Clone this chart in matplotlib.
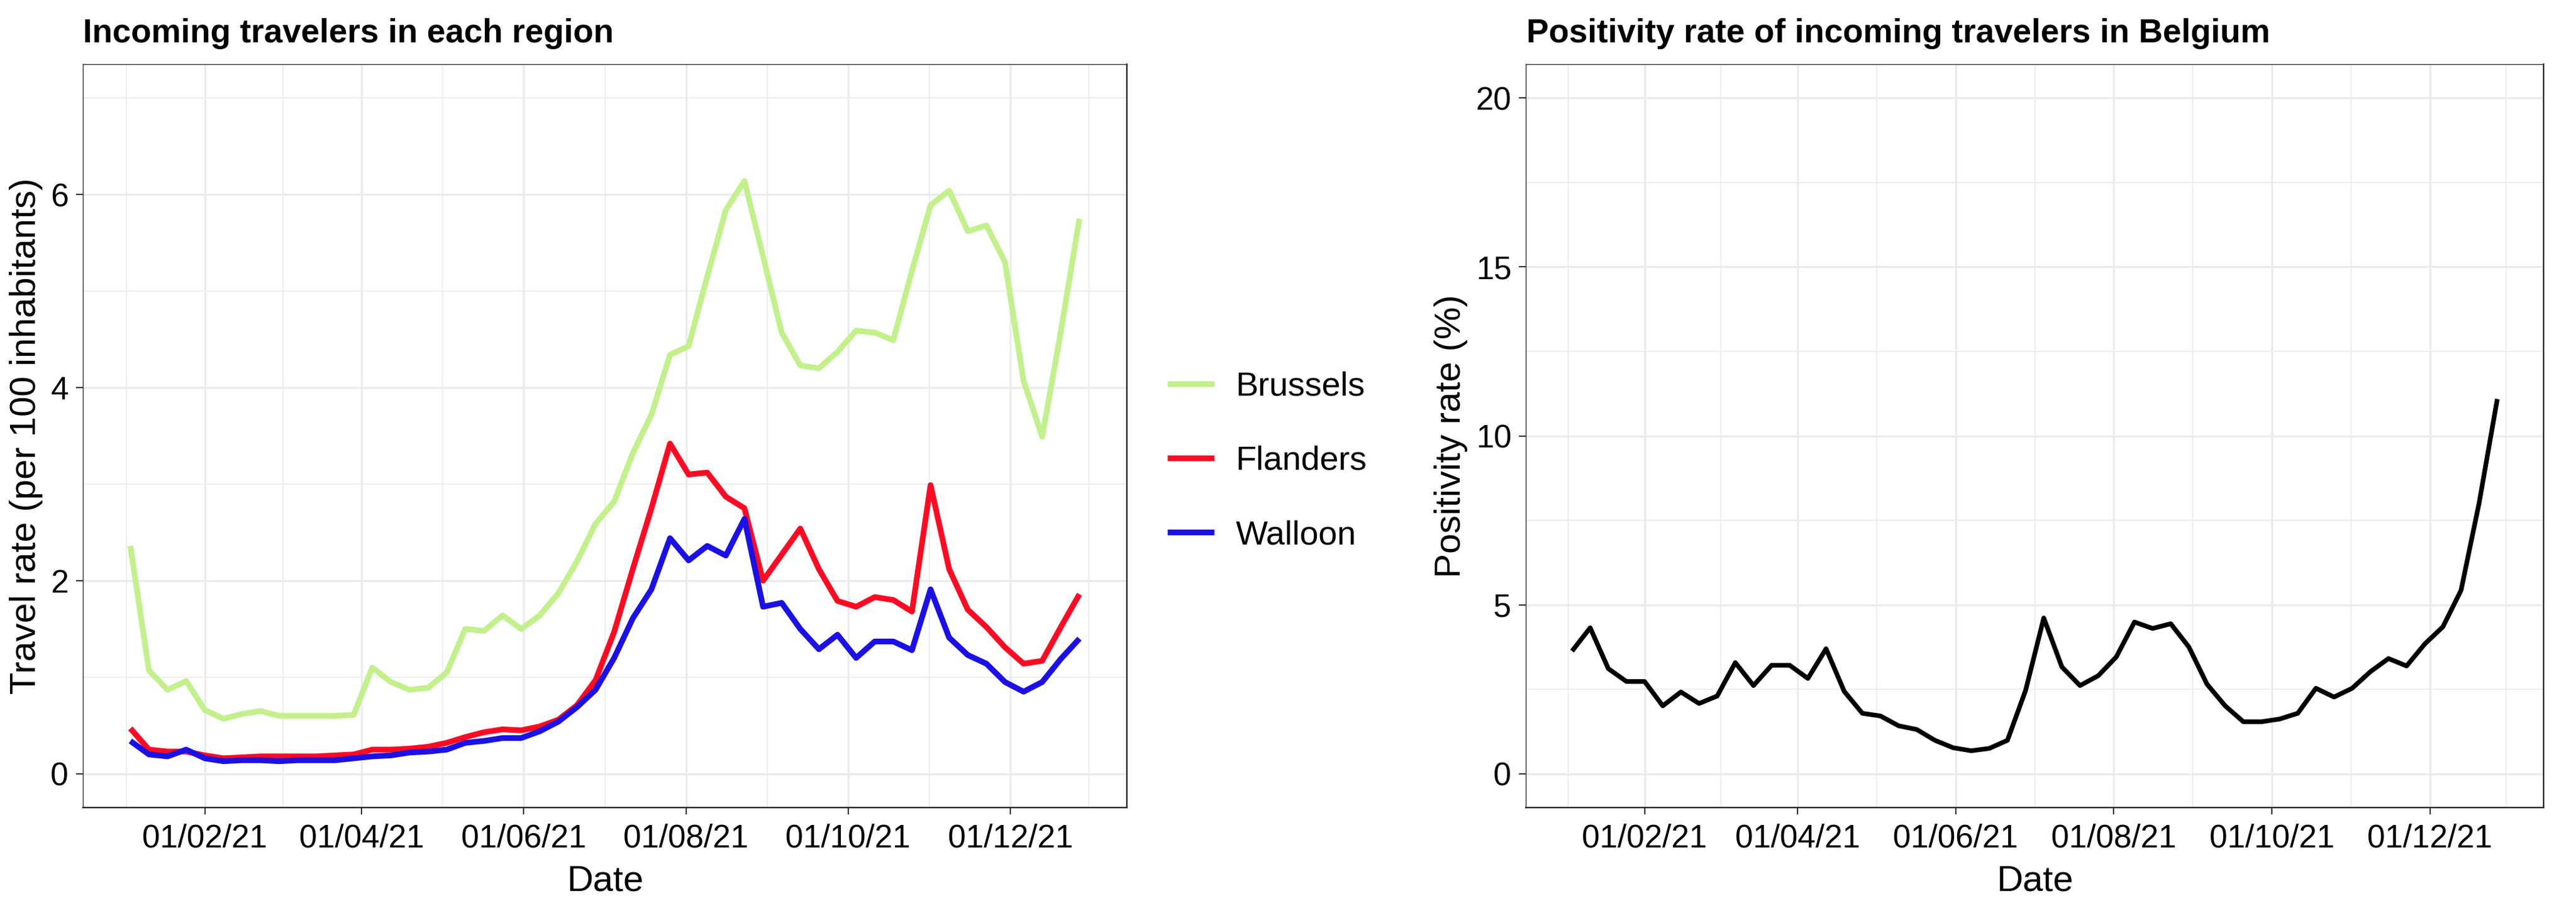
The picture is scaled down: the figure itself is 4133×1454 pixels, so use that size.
import numpy as np
import pandas as pd
import matplotlib
matplotlib.use('Agg')
import matplotlib.pyplot as plt
import matplotlib.dates as mdates
from matplotlib import font_manager
from matplotlib.ticker import MultipleLocator, FixedLocator

# weekly data, Monday of each week in 2021
weeks = pd.date_range('2021-01-04', periods=52, freq='7D')

brussels = [2.36, 1.07, 0.87, 0.96, 0.66, 0.57, 0.62, 0.65, 0.60, 0.60, 0.60, 0.60, 0.61,
            1.10, 0.95, 0.87, 0.89, 1.05, 1.50, 1.48, 1.64, 1.50, 1.64, 1.87, 2.20, 2.59,
            2.82, 3.32, 3.72, 4.34, 4.43, 5.15, 5.84, 6.14, 5.36, 4.57, 4.23, 4.20, 4.37,
            4.59, 4.57, 4.49, 5.21, 5.89, 6.04, 5.62, 5.68, 5.30, 4.07, 3.49, 4.58, 5.75]
flanders = [0.47, 0.25, 0.23, 0.23, 0.19, 0.16, 0.17, 0.18, 0.18, 0.18, 0.18, 0.19, 0.20,
            0.25, 0.25, 0.26, 0.28, 0.32, 0.38, 0.43, 0.46, 0.45, 0.49, 0.56, 0.71, 0.97,
            1.47, 2.12, 2.75, 3.42, 3.10, 3.12, 2.87, 2.75, 2.00, 2.27, 2.54, 2.12, 1.79,
            1.73, 1.83, 1.80, 1.68, 2.99, 2.12, 1.70, 1.52, 1.31, 1.14, 1.17, 1.52, 1.86]
walloon = [0.34, 0.20, 0.18, 0.25, 0.16, 0.13, 0.14, 0.14, 0.13, 0.14, 0.14, 0.14, 0.16,
           0.18, 0.19, 0.22, 0.23, 0.25, 0.32, 0.34, 0.37, 0.37, 0.44, 0.54, 0.69, 0.87,
           1.20, 1.61, 1.91, 2.44, 2.21, 2.36, 2.26, 2.64, 1.73, 1.77, 1.50, 1.29, 1.44,
           1.20, 1.37, 1.37, 1.28, 1.91, 1.41, 1.23, 1.14, 0.95, 0.85, 0.95, 1.19, 1.40]
positivity = [3.63, 4.32, 3.11, 2.73, 2.73, 2.01, 2.42, 2.08, 2.30, 3.29, 2.61, 3.21, 3.21,
              2.82, 3.70, 2.44, 1.79, 1.71, 1.42, 1.31, 0.99, 0.77, 0.68, 0.75, 0.99, 2.47,
              4.61, 3.16, 2.61, 2.90, 3.46, 4.49, 4.30, 4.44, 3.75, 2.65, 2.01, 1.54, 1.54,
              1.62, 1.79, 2.53, 2.27, 2.53, 3.02, 3.41, 3.19, 3.84, 4.35, 5.43, 8.02, 11.09]

regions = ['Brussels', 'Flanders', 'Walloon']
region_colors = ['#c2f08b', '#ff0a23', '#1b10e6']
major_dates = pd.to_datetime(['2021-02-01', '2021-04-01', '2021-06-01',
                              '2021-08-01', '2021-10-01', '2021-12-01'])

names = {f.name for f in font_manager.fontManager.ttflist}
base_font = 'Liberation Sans' if 'Liberation Sans' in names else 'DejaVu Sans'
narrow = 'Liberation Sans Narrow' in names
title_font = 'Liberation Sans Narrow' if narrow else base_font
title_size = 13.4 if narrow else 12.8
plt.rcParams['font.family'] = [base_font, 'DejaVu Sans']

W, H = 4133, 1454
fig = plt.figure(figsize=(W / 300, H / 300), dpi=300)

def px_axes(x0, x1, y0, y1):
    return fig.add_axes([x0 / W, 1 - y1 / H, (x1 - x0) / W, (y1 - y0) / H])

ax1 = px_axes(133, 1808, 103, 1296)
ax2 = px_axes(2448, 4081, 103, 1296)

# ggplot-style minor breaks: midpoints of the majors, extended by one step each side
step = major_dates[1] - major_dates[0]
ext = [major_dates[0] - step] + list(major_dates) + [major_dates[-1] + step]
minor_dates = [ext[i] + (ext[i + 1] - ext[i]) / 2 for i in range(len(ext) - 1)]

span = weeks[-1] - weeks[0]
xlim = (weeks[0] - span * 0.05, weeks[-1] + span * 0.05)

def style(ax, ymax, ymajor):
    ax.set_xlim(xlim)
    ax.set_ylim(-0.05 * ymax, 1.05 * ymax)
    ax.xaxis.set_major_locator(FixedLocator(mdates.date2num(major_dates)))
    ax.xaxis.set_minor_locator(FixedLocator(mdates.date2num(minor_dates)))
    ax.xaxis.set_major_formatter(mdates.DateFormatter('%d/%m/%y'))
    ax.yaxis.set_major_locator(MultipleLocator(ymajor))
    ax.yaxis.set_minor_locator(MultipleLocator(ymajor / 2))
    ax.grid(which='major', color='#ebebeb', lw=0.8)
    ax.grid(which='minor', color='#ebebeb', lw=0.4)
    ax.set_axisbelow(True)
    ax.tick_params(which='major', length=2.6, width=0.5, color='#333333',
                   labelsize=12.4, labelcolor='black')
    ax.tick_params(axis='x', pad=3.5)
    ax.tick_params(axis='y', pad=2.9)
    ax.tick_params(which='minor', length=0)
    for side in ['top', 'left']:
        ax.spines[side].set_linewidth(0.35)
        ax.spines[side].set_color('#333333')
    for side in ['bottom', 'right']:
        ax.spines[side].set_linewidth(0.55)
        ax.spines[side].set_color('#222222')
    ax.set_xlabel('Date', fontsize=14, labelpad=4)

# left panel: incoming travelers per region
style(ax1, 7, 2)
handles = []
for name, vals, col in zip(regions, [brussels, flanders, walloon], region_colors):
    h, = ax1.plot(weeks, vals, color=col, lw=2.2, solid_capstyle='butt',
                  solid_joinstyle='round', label=name)
    handles.append(h)
ax1.set_ylabel('Travel rate (per 100 inhabitants)', fontsize=14, labelpad=3)
fig.text(133 / W, 1 - 68 / H, 'Incoming travelers in each region', fontsize=title_size,
         fontweight='bold', family=title_font, ha='left', va='baseline')

fig.legend(handles=handles, labels=regions, loc='center left',
           bbox_to_anchor=(1873 / W, 1 - 740 / H), frameon=False, fontsize=13,
           handlelength=1.39, handletextpad=0.63, labelspacing=1.28,
           borderpad=0, borderaxespad=0)

# right panel: positivity rate
style(ax2, 20, 5)
ax2.plot(weeks, positivity, color='black', lw=1.8, solid_capstyle='butt',
         solid_joinstyle='round')
ax2.set_ylabel('Positivity rate (%)', fontsize=14, labelpad=3)
fig.text(2449 / W, 1 - 68 / H, 'Positivity rate of incoming travelers in Belgium',
         fontsize=title_size, fontweight='bold', family=title_font, ha='left', va='baseline')

fig.savefig('out.png', dpi=300)
